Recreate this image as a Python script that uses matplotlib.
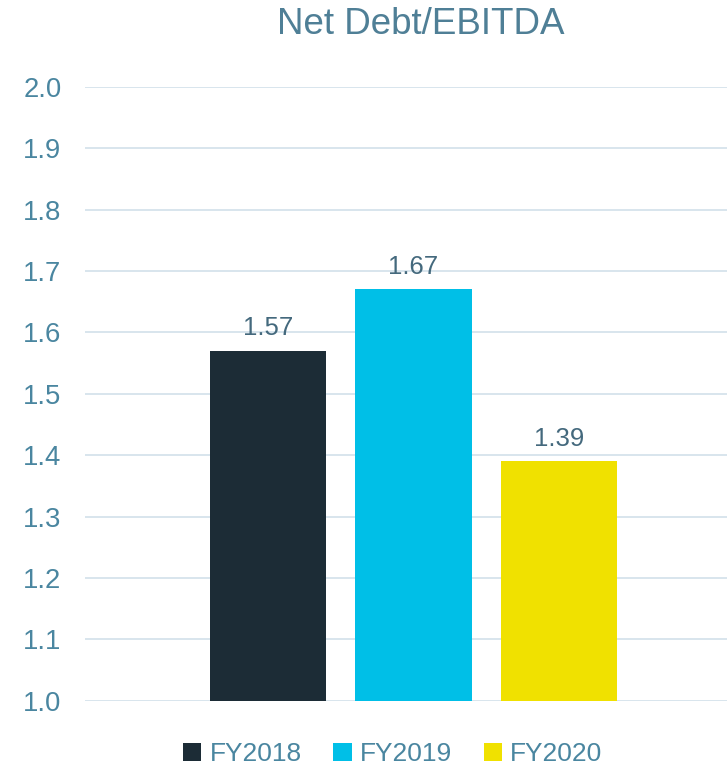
import matplotlib.pyplot as plt
from matplotlib.patches import Patch

years = ["FY2018", "FY2019", "FY2020"]
ratios = [1.57, 1.67, 1.39]
colors = ["#1C2C36", "#00BFE7", "#F0E100"]
yticks = [1.0, 1.1, 1.2, 1.3, 1.4, 1.5, 1.6, 1.7, 1.8, 1.9, 2.0]

plt.rcParams['font.family'] = ['Liberation Sans', 'DejaVu Sans']

fig = plt.figure(figsize=(7.27, 7.67), dpi=100)
ax = fig.add_axes([0.117, 0.0864, 0.883, 0.8005])

pos = list(range(len(years)))
ax.bar(pos, [r - 1.0 for r in ratios], bottom=1.0, width=0.8, color=colors, zorder=3)
for p, r in zip(pos, ratios):
    ax.text(p, r + 0.017, f"{r:.2f}", ha="center", va="bottom",
            fontsize=18.5, color="#44697D", zorder=4)

ax.set_ylim(1.0, 2.0)
ax.set_xlim(-1.258, 3.155)
ax.set_yticks(yticks)
ax.set_yticklabels([f"{t:.1f}" for t in yticks])
ax.set_xticks([])
ax.tick_params(axis="y", length=0, pad=17, labelsize=19.8, labelcolor="#4A86A0")
ax.grid(axis="y", color="#D8E5ED", linewidth=1.4, zorder=0)
for s in ax.spines.values():
    s.set_visible(False)

fig.text(0.579, 0.968, "Net Debt/EBITDA", ha="center", va="center",
         fontsize=26.5, color="#4F7F96")

handles = [Patch(facecolor=c, label=y) for c, y in zip(colors, years)]
fig.legend(handles=handles, loc="center", bbox_to_anchor=(0.54, 0.0165), ncol=3,
           frameon=False, fontsize=19, labelcolor="#4A86A0",
           handlelength=0.7, handleheight=0.7, handletextpad=0.3, columnspacing=1.2)

fig.savefig("out.png", dpi=100)
